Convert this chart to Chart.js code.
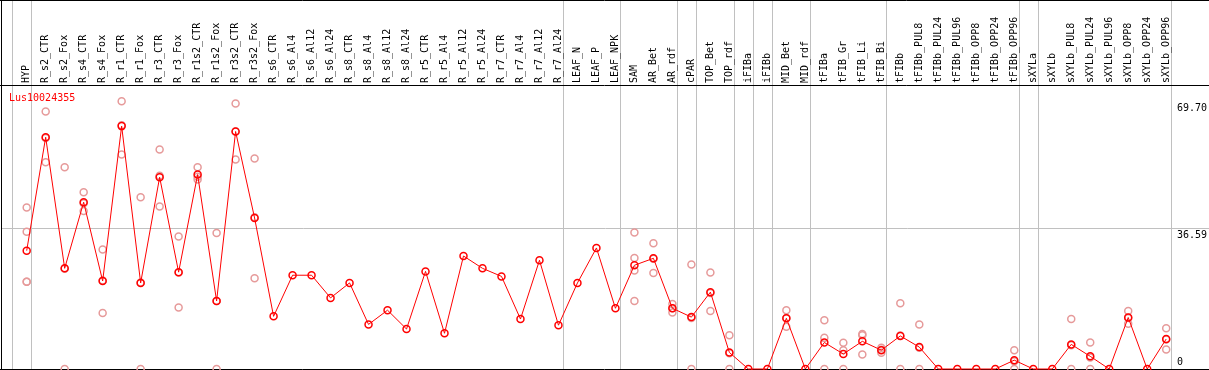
<!DOCTYPE html>
<html><head><meta charset="utf-8">
<script src="https://cdn.jsdelivr.net/npm/chart.js@4/dist/chart.umd.min.js"></script>
<style>html,body{margin:0;padding:0;background:#fff;overflow:hidden}</style>
</head><body>
<canvas id="c" width="1209" height="370"></canvas>
<script>
const seriesName = 'Lus10024355';
const categories = ['HYP','R_s2_CTR','R_s2_Fox','R_s4_CTR','R_s4_Fox','R_r1_CTR','R_r1_Fox','R_r3_CTR','R_r3_Fox','R_r1s2_CTR','R_r1s2_Fox','R_r3s2_CTR','R_r3s2_Fox','R_s6_CTR','R_s6_Al4','R_s6_Al12','R_s6_Al24','R_s8_CTR','R_s8_Al4','R_s8_Al12','R_s8_Al24','R_r5_CTR','R_r5_Al4','R_r5_Al12','R_r5_Al24','R_r7_CTR','R_r7_Al4','R_r7_Al12','R_r7_Al24','LEAF_N','LEAF_P','LEAF_NPK','SAM','AR_Bet','AR_rdf','cPAR','TOP_Bet','TOP_rdf','iFIBa','iFIBb','MID_Bet','MID_rdf','tFIBa','tFIB_Gr','tFIB_Li','tFIB_Bi','tFIBb','tFIBb_PUL8','tFIBb_PUL24','tFIBb_PUL96','tFIBb_OPP8','tFIBb_OPP24','tFIBb_OPP96','sXYLa','sXYLb','sXYLb_PUL8','sXYLb_PUL24','sXYLb_PUL96','sXYLb_OPP8','sXYLb_OPP24','sXYLb_OPP96'];
const meanValues = [30.8,60.3,26.2,43.4,22.9,63.2,22.4,49.9,25.2,50.6,17.7,61.8,39.3,13.7,24.4,24.4,18.5,22.4,11.6,15.3,10.4,25.4,9.3,29.4,26.2,24.1,13.0,28.3,11.4,22.4,31.5,15.8,27.0,28.8,15.8,13.5,20.0,4.3,0,0,13.2,0,6.9,3.9,7.2,4.9,8.6,5.7,0,0,0,0,2.3,0,0,6.4,3.3,0,13.4,0,7.8];
const rep1 = [42.0,67.0,52.5,46.0,31.1,69.7,44.7,57.1,34.5,52.5,35.4,69.1,54.8,null,null,null,null,null,null,null,null,null,null,null,null,null,null,null,null,null,null,null,35.5,32.7,16.9,27.2,25.1,8.8,null,null,15.3,null,12.7,6.8,9.1,5.5,17.1,11.6,null,null,null,null,4.9,null,null,13.0,6.9,null,15.1,null,10.6];
const rep2 = [35.7,53.8,0,41.1,14.6,55.8,0,42.3,16.0,49.3,0,54.5,23.6,null,null,null,null,null,null,null,null,null,null,null,null,null,null,null,null,null,null,null,28.9,25.0,14.7,0,15.1,0,null,null,11.0,null,8.1,4.9,8.8,4.2,0,0,null,null,null,null,0,null,null,0,0,null,11.8,null,5.1];
const rep3 = [22.7,60.1,26.1,43.1,23.0,63.4,22.5,50.3,25.1,50.0,17.7,61.8,39.5,null,null,null,null,null,null,null,null,null,null,null,null,null,null,null,null,null,null,null,25.6,28.7,15.8,13.3,19.8,4.1,null,null,13.3,null,0,0,3.8,5.0,8.7,5.5,null,null,null,null,2.0,null,null,6.2,3.0,null,13.3,null,7.7];
const rep4 = [22.7,null,null,null,null,null,null,null,null,null,null,null,null,null,null,null,null,null,null,null,null,null,null,null,null,null,null,null,null,null,null,null,17.7,null,null,null,null,null,null,null,null,null,null,null,null,null,null,null,null,null,null,null,null,null,null,null,null,null,null,null,null];
const yTickValues = [0, 36.59, 69.70];
const yTickLabels = ['0', '36.59', '69.70'];
const gridValues = [36.59];
const groupEnds = [-1, 0, 28, 31, 34, 35, 37, 38, 39, 41, 45, 52, 53, 60];

const mainPoints = meanValues.map((v, i) => ({x: i, y: v}));
const repPoints = [];
[rep1, rep2, rep3, rep4].forEach(arr => arr.forEach((v, i) => { if (v !== null) repPoints.push({x: i, y: v}); }));

const FONT = '10px "DejaVu Sans Mono", monospace';
const W = 1209, H = 370;

const framePlugin = {
  id: 'framePlugin',
  beforeDatasetsDraw(chart) {
    const {ctx, chartArea: a, scales: {x, y}} = chart;
    ctx.save();
    ctx.lineWidth = 1;
    ctx.strokeStyle = '#c0c0c0';
    groupEnds.forEach(g => {
      const px = Math.round(x.getPixelForValue(g + 0.23)) + 0.5;
      ctx.beginPath(); ctx.moveTo(px, 0); ctx.lineTo(px, a.bottom); ctx.stroke();
    });
    gridValues.forEach(v => {
      const py = Math.round(y.getPixelForValue(v)) + 0.5;
      ctx.beginPath(); ctx.moveTo(a.left, py); ctx.lineTo(W, py); ctx.stroke();
    });
    ctx.strokeStyle = '#000';
    ctx.beginPath(); ctx.moveTo(0, 0.5); ctx.lineTo(W, 0.5); ctx.stroke();
    ctx.beginPath(); ctx.moveTo(0, a.top + 0.5); ctx.lineTo(W, a.top + 0.5); ctx.stroke();
    ctx.beginPath(); ctx.moveTo(0, a.bottom + 0.5); ctx.lineTo(W, a.bottom + 0.5); ctx.stroke();
    ctx.beginPath(); ctx.moveTo(1.5, 0); ctx.lineTo(1.5, H); ctx.stroke();

    ctx.font = FONT;
    ctx.fillStyle = '#000';
    categories.forEach((c, i) => {
      const px = x.getPixelForValue(i);
      ctx.save();
      ctx.translate(px, a.top - 2);
      ctx.rotate(-Math.PI / 2);
      ctx.textAlign = 'left';
      ctx.textBaseline = 'middle';
      ctx.fillText(c, 0, 0);
      ctx.restore();
    });
    ctx.textAlign = 'left';
    ctx.textBaseline = 'alphabetic';
    yTickValues.forEach((v, i) => {
      const py = y.getPixelForValue(v);
      const base = v === 0 ? py - 4.5 : py + 9.5;
      ctx.fillText(yTickLabels[i], a.right + 7, base);
    });
    ctx.fillStyle = '#ff0000';
    ctx.fillText(seriesName, 9, a.top + 16);
    ctx.restore();
  }
};

new Chart(document.getElementById('c'), {
  data: {
    datasets: [
      {type: 'line', label: seriesName, data: mainPoints, borderColor: '#ff0000', borderWidth: 1,
       pointRadius: 3.5, pointBorderWidth: 1.5, pointBorderColor: '#ff0000', pointBackgroundColor: 'rgba(0,0,0,0)',
       tension: 0, fill: false, clip: false, order: 1},
      {type: 'scatter', label: 'replicates', data: repPoints, showLine: false,
       pointRadius: 3.5, pointBorderWidth: 1.5, pointBorderColor: '#e69a9a', pointBackgroundColor: 'rgba(0,0,0,0)',
       clip: false, order: 2}
    ]
  },
  options: {
    responsive: false, animation: false, devicePixelRatio: 1,
    layout: {autoPadding: false, padding: {left: 2, right: 39, top: 85, bottom: 1}},
    plugins: {legend: {display: false}, tooltip: {enabled: false}},
    scales: {
      x: {type: 'linear', min: -1.3, max: 60.2, display: false},
      y: {type: 'linear', min: 0, max: 73.9, display: false}
    }
  },
  plugins: [framePlugin]
});
</script>
</body></html>
